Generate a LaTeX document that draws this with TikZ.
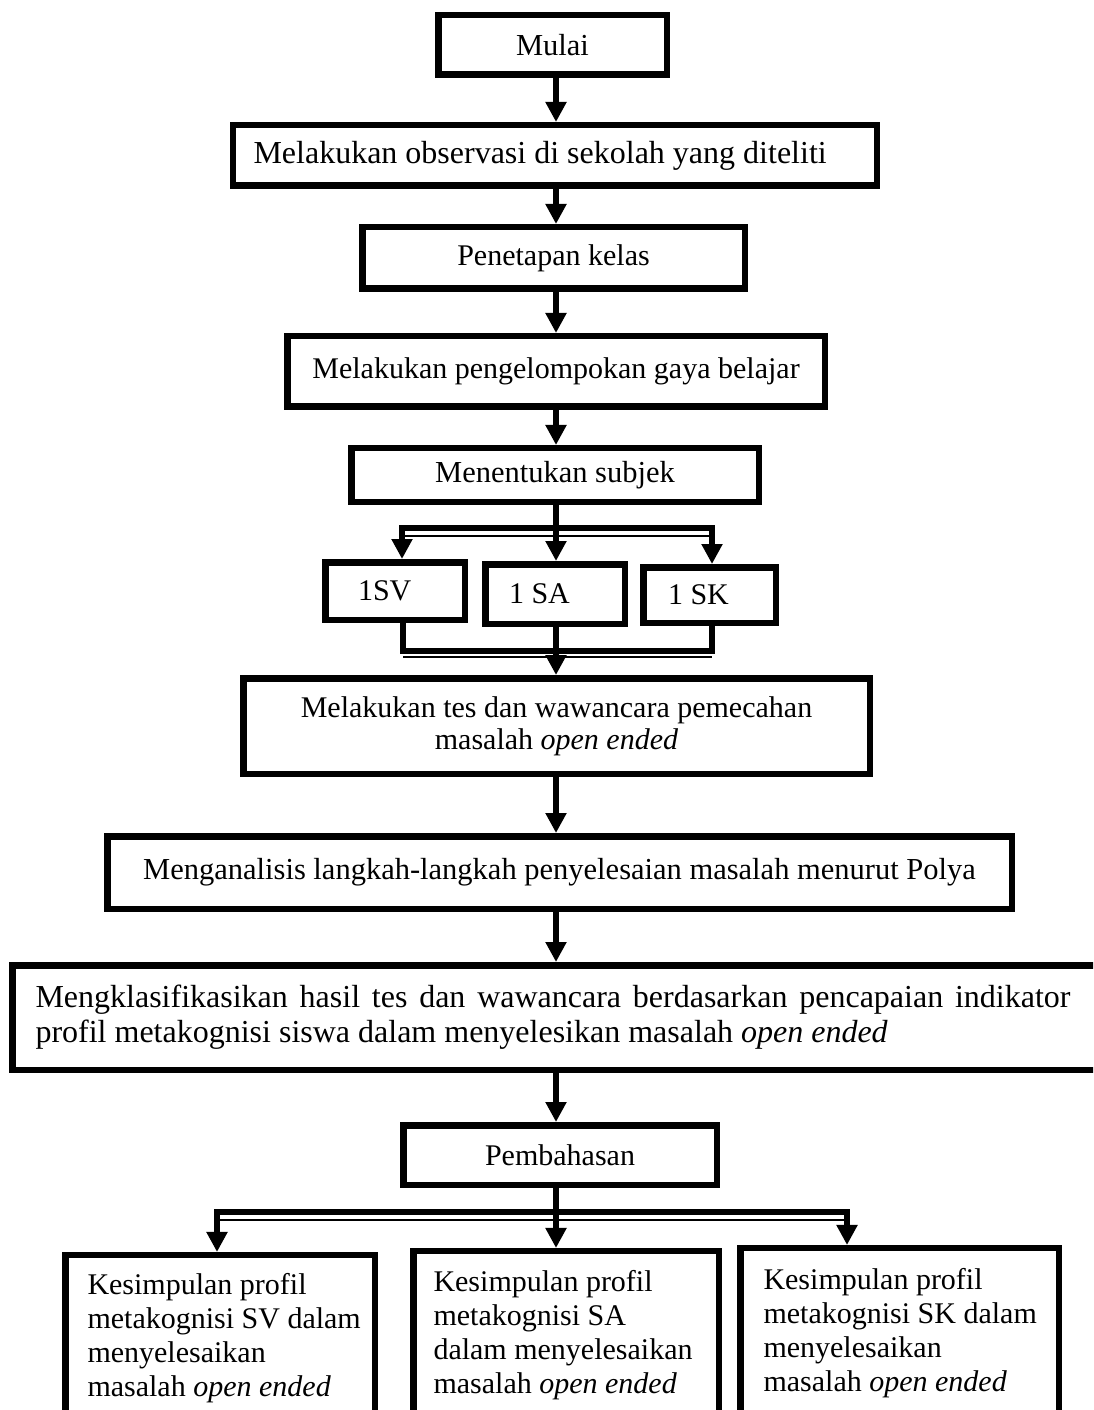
\documentclass[tikz,border=0pt]{standalone}
\usepackage{fontspec}
\setmainfont{Liberation Serif}
\usetikzlibrary{arrows.meta}
\begin{document}
\begin{tikzpicture}[x=0.4pt,y=-0.4pt,
  box/.style={draw=black, line width=2.6pt, inner sep=0pt, align=center,
    font=\fontsize{12}{13.5}\selectfont},
  sz/.style 2 args={minimum width=#1*0.4pt, minimum height=#2*0.4pt},
  txt/.style={inner sep=0pt, align=flush left},
  arr/.style={line width=2.6pt, -{Triangle[length=8pt,width=8pt]}},
  bar/.style={line width=2.5pt},
  thinline/.style={line width=0.8pt}]
\useasboundingbox (0,0) rectangle (1093,1410);
\clip (0,0) rectangle (1093,1410);

\coordinate (ax) at (556,0);

% main column
\node[box, sz={228.5}{59.5}, font=\fontsize{12.2}{14}\selectfont] (mulai) at (552.5,45) {Mulai};
\node[box, sz={643.5}{60.5}, inner xsep=8.1pt, text width=241.2pt, align=flush left,
      font=\fontsize{12.8}{14}\selectfont] (obs) at (555,155.5)
      {Melakukan observasi di sekolah yang diteliti};
\node[box, sz={382.5}{61.5}] (pen) at (553.5,258) {Penetapan kelas};
\node[box, sz={537.5}{70.5}] (kel) at (556,371.5) {Melakukan pengelompokan gaya belajar};
\node[box, sz={407.5}{53.5}, font=\fontsize{12.2}{14}\selectfont] (subj) at (555,475) {Menentukan subjek};

% subjects
\node[box, sz={139.5}{57.5}, inner xsep=13.1pt, text width=29.6pt, align=flush left] (sv) at (395,591) {1SV};
\node[box, sz={139.5}{59.5}, inner xsep=9.5pt, text width=36.8pt, align=flush left] (sa) at (555,594) {1 SA};
\node[box, sz={132.5}{55.5}, inner xsep=9.9pt, text width=33.2pt, align=flush left] (sk) at (709.5,595) {1 SK};

\node[box, sz={626.5}{95.5}, font=\fontsize{12}{12.7}\selectfont] (tes) at (556.5,726)
      {Melakukan tes dan wawancara pemecahan\\ masalah \textit{open ended}};
\node[box, sz={904.5}{72.5}, font=\fontsize{12.2}{14}\selectfont] (polya) at (559.5,872.5)
      {Menganalisis langkah-langkah penyelesaian masalah menurut Polya};
\node[box, sz={1104.5}{104.5}] (klas) at (564.5,1017.5) {};
\node[inner sep=0pt, anchor=west, text width=414pt, align=justify,
      font=\fontsize{12.8}{14}\selectfont] (klastext) at (35,1017.5)
      {Mengklasifikasikan hasil tes dan wawancara berdasarkan pencapaian indikator\linebreak
       profil metakognisi siswa dalam menyelesikan masalah \textit{open ended}};
\node[box, sz={313.5}{59.5}] (pemb) at (560,1155) {Pembahasan};

% conclusions (cut off at bottom)
\node[box, sz={309.5}{244.75}] (kl) at (220,1377.6) {};
\node[box, sz={305.5}{248.75}] (km) at (566,1375.6) {};
\node[box, sz={318.5}{251.75}] (kr) at (899.5,1374.1) {};
\node[txt, anchor=north west, font=\fontsize{12}{13.6}\selectfont] (klt) at (87,1272.5)
  {Kesimpulan profil\\ metakognisi SV dalam\\ menyelesaikan\\ masalah \textit{open ended}};
\node[txt, anchor=north west, font=\fontsize{12}{13.6}\selectfont] (kmt) at (433,1269.5)
  {Kesimpulan profil\\ metakognisi SA\\ dalam menyelesaikan\\ masalah \textit{open ended}};
\node[txt, anchor=north west, font=\fontsize{12}{13.6}\selectfont] (krt) at (763,1267.5)
  {Kesimpulan profil\\ metakognisi SK dalam\\ menyelesaikan\\ masalah \textit{open ended}};

% arrows main column
\draw[arr] (mulai.south -| ax) -- (obs.north -| ax);
\draw[arr] (obs.south -| ax) -- (pen.north -| ax);
\draw[arr] (pen.south -| ax) -- (kel.north -| ax);
\draw[arr] (kel.south -| ax) -- (subj.north -| ax);

% split to subjects
\coordinate (sl) at (402,528);
\coordinate (sr) at (712,528);
\coordinate (sl2) at (402,536);
\coordinate (sr2) at (712,536);
\draw[arr] (sr) -- (sl) -- (sl |- sv.north);
\draw[arr] (sl) -- (sr) -- (sr |- sk.north);
\draw[thinline] (sl2) -- (sr2);
\draw[arr] (subj.south -| ax) -- (sa.north -| ax);

% merge from subjects
\coordinate (ml) at (403,651);
\coordinate (mr) at (712,651);
\coordinate (ml2) at (403,657);
\coordinate (mr2) at (712,657);
\draw[bar] (sv.south -| ml) -- (ml) -- (mr) -- (sk.south -| mr);
\draw[thinline] (ml2) -- (mr2);
\draw[bar] (sa.south -| ax) -- (ml -| ax);
\draw[arr] (ml -| ax) -- (tes.north -| ax);

\draw[arr] (tes.south -| ax) -- (polya.north -| ax);
\draw[arr] (polya.south -| ax) -- (klas.north -| ax);
\draw[arr] (klas.south -| ax) -- (pemb.north -| ax);

% split to conclusions
\coordinate (bl) at (217,1212);
\coordinate (br) at (847,1212);
\coordinate (bl2) at (217,1220);
\coordinate (br2) at (847,1220);
\draw[arr] (br) -- (bl) -- (bl |- kl.north);
\draw[arr] (bl) -- (br) -- (br |- kr.north);
\draw[thinline] (bl2) -- (br2);
\draw[arr] (pemb.south -| ax) -- (km.north -| ax);
\end{tikzpicture}
\end{document}
